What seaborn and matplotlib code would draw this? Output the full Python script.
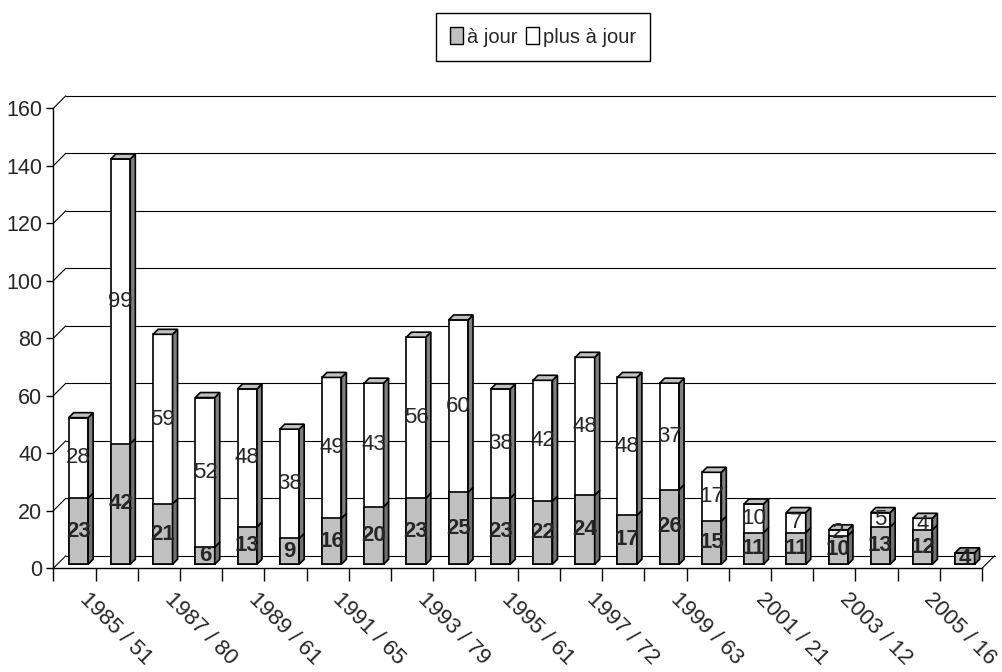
import numpy as np
import pandas as pd
import matplotlib.pyplot as plt
import seaborn as sns
from matplotlib.patches import Polygon, Patch
from matplotlib.transforms import ScaledTranslation

# ==========================================
# DONNEES
# ==========================================
annees = list(range(1985, 2007))
a_jour = [23, 42, 21, 6, 13, 9, 16, 20, 23, 25, 23, 22, 24, 17, 26, 15, 11, 11, 10, 13, 12, 4]
plus_a_jour = [28, 99, 59, 52, 48, 38, 49, 43, 56, 60, 38, 42, 48, 48, 37, 17, 10, 7, 2, 5, 4, 0]
noms_series = ['à jour', 'plus à jour']

GRIS = '#c0c0c0'
GRIS_COTE = '#707070'
GRIS_DESSUS = '#a0a0a0'
BLANC_COTE = '#808080'
BLANC_DESSUS = '#c0c0c0'

MUR = 12.5      # profondeur du mur du fond (px)
DECALAGE = 4.0  # recul des barres par rapport au plan avant (px)
PROF = 5.0      # profondeur des barres (px)

sns.set_style("white")
plt.rcParams['font.family'] = ['Liberation Sans', 'DejaVu Sans']

df = pd.DataFrame({'annee': [str(a) for a in annees], 'a_jour': a_jour, 'plus': plus_a_jour})
df['total'] = df['a_jour'] + df['plus']
n = len(df)

fig = plt.figure(figsize=(10.03, 6.72), dpi=100)
ax = fig.add_axes([53.3 / 1003, 103.7 / 672, 928.7 / 1003, 460 / 672])

sns.barplot(data=df, x='annee', y='total', color='white', edgecolor='black', linewidth=1.2,
            width=0.46, saturation=1, errorbar=None, ax=ax, zorder=3)
sns.barplot(data=df, x='annee', y='a_jour', color=GRIS, edgecolor='black', linewidth=1.2,
            width=0.46, saturation=1, errorbar=None, ax=ax, zorder=3)

ax.set_xlim(-0.5, n - 0.5)
ax.set_ylim(0, 160)

# conversion px -> unites de donnees
bb = ax.get_window_extent()
px_x = bb.width / n
px_y = bb.height / 160


def dx(p):
    return p / px_x


def dy(p):
    return p / px_y


# mur du fond + sol
for t in range(0, 161, 20):
    ax.plot([-0.5, -0.5 + dx(MUR)], [t, t + dy(MUR)], color='black', lw=0.8, clip_on=False, zorder=1)
    ax.plot([-0.5 + dx(MUR), n - 0.5 + dx(MUR)], [t + dy(MUR)] * 2, color='black', lw=0.8,
            clip_on=False, zorder=1)
ax.plot([n - 0.5, n - 0.5 + dx(MUR)], [0, dy(MUR)], color='black', lw=0.8, clip_on=False, zorder=1)

# decalage des faces avant
sx, sy = dx(DECALAGE), dy(DECALAGE)
for p in ax.patches:
    p.set_x(p.get_x() + sx)
    p.set_y(p.get_y() + sy)
    p.set_clip_on(False)

px_, py_ = dx(PROF), dy(PROF)


def faces(x0, x1, y0, y1, c_cote, c_dessus, dessus):
    cote = Polygon([(x1, y0), (x1, y1), (x1 + px_, y1 + py_), (x1 + px_, y0 + py_)],
                   closed=True, facecolor=c_cote, edgecolor='black', lw=1.2, zorder=3, clip_on=False)
    ax.add_patch(cote)
    if dessus:
        haut = Polygon([(x0, y1), (x1, y1), (x1 + px_, y1 + py_), (x0 + px_, y1 + py_)],
                       closed=True, facecolor=c_dessus, edgecolor='black', lw=1.2, zorder=3, clip_on=False)
        ax.add_patch(haut)


largeur = 0.46
for i, row in df.iterrows():
    x0 = i - largeur / 2 + sx
    x1 = i + largeur / 2 + sx
    faces(x0, x1, sy, sy + row['a_jour'], GRIS_COTE, GRIS_DESSUS, row['plus'] == 0)
    if row['plus'] > 0:
        faces(x0, x1, sy + row['a_jour'], sy + row['total'], BLANC_COTE, BLANC_DESSUS, True)
    ax.text(i + sx, sy + row['a_jour'] / 2, str(row['a_jour']), ha='center', va='center',
            fontsize=16, fontweight='bold', zorder=5)
    if row['plus'] > 0:
        ax.text(i + sx, sy + row['a_jour'] + row['plus'] / 2, str(row['plus']), ha='center',
                va='center', fontsize=16, zorder=5)

# axes
ax.set_xlabel('')
ax.set_ylabel('')
for s in ['top', 'right']:
    ax.spines[s].set_visible(False)
for s in ['left', 'bottom']:
    ax.spines[s].set_color('black')
    ax.spines[s].set_linewidth(1)
    ax.spines[s].set_zorder(2)

ax.set_yticks(range(0, 161, 20))
ax.tick_params(axis='y', labelsize=15.5, length=5, width=1, color='black', direction='out', pad=3, left=True)

pos = list(range(0, n, 2))
ax.set_xticks(pos)
ax.set_xticks(np.arange(-0.5, n, 1), minor=True)
ax.tick_params(axis='x', which='major', length=0, pad=12)
ax.tick_params(axis='x', which='minor', length=9, width=1, color='black', direction='out', bottom=True)
ax.set_xticklabels([f"{annees[i]} / {df['total'][i]}" for i in pos], rotation=-45, ha='left',
                   va='top', rotation_mode='anchor', fontsize=16)
decal = ScaledTranslation(0.16, -0.04, fig.dpi_scale_trans)
for lbl in ax.get_xticklabels():
    lbl.set_transform(lbl.get_transform() + decal)

poignees = [Patch(facecolor=GRIS, edgecolor='black'), Patch(facecolor='white', edgecolor='black')]
leg = fig.legend(poignees, noms_series, loc='center', bbox_to_anchor=(543 / 1003, 1 - 37 / 672),
                 ncol=2, frameon=True, fancybox=False, edgecolor='black', fontsize=14.5,
                 handlelength=0.65, handleheight=0.85, handletextpad=0.2, columnspacing=0.4,
                 borderpad=0.7, framealpha=1)
leg.get_frame().set_linewidth(1)

fig.savefig('out.png', dpi=100)
